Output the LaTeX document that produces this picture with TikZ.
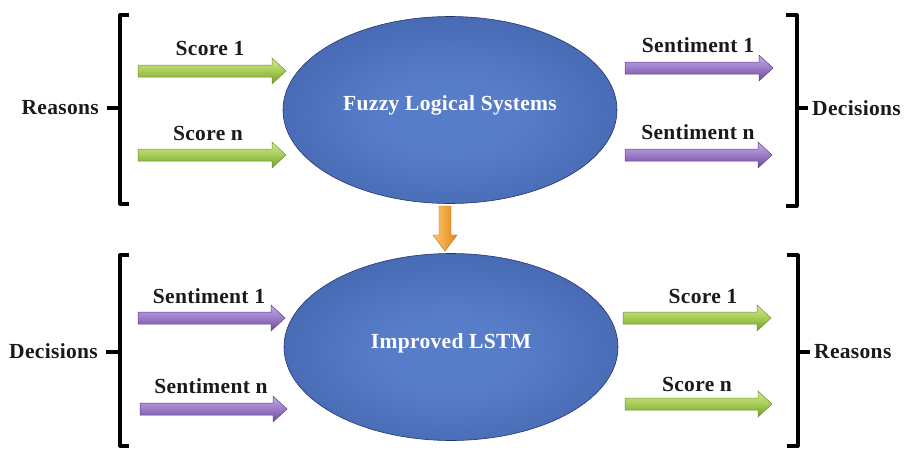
\documentclass[tikz,border=0pt]{standalone}
\usepackage{fontspec}
\setmainfont{Liberation Serif}[LetterSpace=1.5]
\usetikzlibrary{shapes.geometric}
\definecolor{gA}{HTML}{D2EA92}
\definecolor{gB}{HTML}{A6CC55}
\definecolor{gC}{HTML}{769A30}
\definecolor{gE}{HTML}{6F9230}
\definecolor{pA}{HTML}{C6ADE6}
\definecolor{pB}{HTML}{9B7BC8}
\definecolor{pC}{HTML}{6A4B98}
\definecolor{pE}{HTML}{5F428A}
\definecolor{oA}{HTML}{FCC866}
\definecolor{oB}{HTML}{E2841C}
\definecolor{eIn}{HTML}{587DC8}
\definecolor{eMid}{HTML}{4263AD}
\definecolor{eRim}{HTML}{33508F}
\definecolor{eOut}{HTML}{24366E}
\definecolor{txt}{HTML}{1A1A1A}
\pgfdeclareradialshading{ellshade}{\pgfpoint{0bp}{-2bp}}{color(0bp)=(eIn); color(10bp)=(eIn); color(33bp)=(eMid); color(45bp)=(eRim); color(50bp)=(eOut); color(80bp)=(eOut)}
\newcommand\blockarrow[4]{%
  \draw[#1] (#2,#4-6) -- (#3-14,#4-6) -- (#3-14,#4-13) -- (#3,#4) -- (#3-14,#4+13) -- (#3-14,#4+6) -- (#2,#4+6) -- cycle;}
\tikzset{
  lbl/.style={font=\fontsize{21.5}{25}\selectfont\bfseries, text=txt, inner sep=0pt},
  elltext/.style={font=\fontsize{21.5}{25}\selectfont\bfseries, text=white},
  bigell/.style={ellipse, shading=ellshade, minimum width=334, minimum height=187, draw=eOut, line width=0.6pt},
  greenarrow/.style={top color=gA, bottom color=gC, middle color=gB, draw=gE, line width=0.5pt},
  purplearrow/.style={top color=pA, bottom color=pC, middle color=pB, draw=pE, line width=0.5pt},
  bracketline/.style={line width=3.2pt, black, line join=round}
}
\begin{document}
\begin{tikzpicture}[x=1pt,y=-1pt]
\useasboundingbox (0,0) rectangle (906,448);
% ellipses
\node[bigell] (fls) at (450,110) {};
\node[elltext] (flstext) at (450,105) {Fuzzy Logical Systems};
\node[bigell] (lstm) at (451,347) {};
\node[elltext] (lstmtext) at (451,343) {Improved LSTM};
% orange arrow
\shade[left color=oA, right color=oB, draw=oB!80!black, line width=0.4pt]
  (439,206) -- (451,206) -- (451,235) -- (457,235) -- (445,251) -- (433,235) -- (439,235) -- cycle;
% top left
\draw[bracketline] (129,15) -- (120,15) -- (120,204) -- (129,204);
\draw[bracketline] (120,108) -- (107,108);
\node[lbl, anchor=east] (reasons1) at (99,108) {Reasons};
\blockarrow{greenarrow}{138}{286}{71}
\blockarrow{greenarrow}{138}{286}{155}
\node[lbl] (sc1a) at (210,48) {Score 1};
\node[lbl] (scna) at (208,133) {Score n};
% top right
\draw[bracketline] (786,15) -- (797,15) -- (797,206) -- (786,206);
\draw[bracketline] (797,108) -- (808,108);
\node[lbl, anchor=west] (decisions1) at (812,108) {Decisions};
\blockarrow{purplearrow}{625}{773}{68}
\blockarrow{purplearrow}{625}{772}{155}
\node[lbl] (se1a) at (698,45) {Sentiment 1};
\node[lbl] (sena) at (698,132) {Sentiment n};
% bottom left
\draw[bracketline] (129,255) -- (120,255) -- (120,446) -- (129,446);
\draw[bracketline] (120,352) -- (106,352);
\node[lbl, anchor=east] (decisions2) at (98,351) {Decisions};
\blockarrow{purplearrow}{138}{285}{318}
\blockarrow{purplearrow}{140}{287}{409}
\node[lbl] (se1b) at (209,296) {Sentiment 1};
\node[lbl] (senb) at (211,386) {Sentiment n};
% bottom right
\draw[bracketline] (787,255) -- (798,255) -- (798,446) -- (787,446);
\draw[bracketline] (798,352) -- (810,352);
\node[lbl, anchor=west] (reasons2) at (814,352) {Reasons};
\blockarrow{greenarrow}{623}{771}{318}
\blockarrow{greenarrow}{625}{772}{404}
\node[lbl] (sc1b) at (703,296) {Score 1};
\node[lbl] (scnb) at (697,384) {Score n};
\end{tikzpicture}
\end{document}
